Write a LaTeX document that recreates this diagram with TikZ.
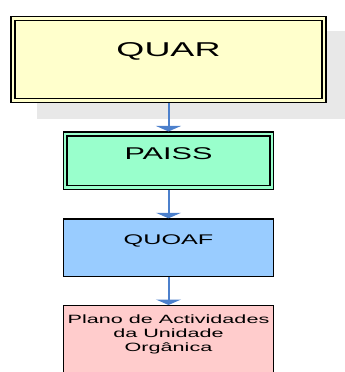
\documentclass[tikz,border=0pt]{standalone}
\usepackage{fontspec}
\setmainfont{Liberation Sans}
\newfontfamily\boxfont[FakeStretch=1.8]{Liberation Sans}
\usetikzlibrary{arrows.meta}

\definecolor{quaryellow}{RGB}{255,255,204}
\definecolor{paissgreen}{RGB}{153,255,204}
\definecolor{quoafblue}{RGB}{153,204,255}
\definecolor{planopink}{RGB}{255,204,204}
\definecolor{shadowgray}{RGB}{232,232,232}
\definecolor{arrowblue}{RGB}{76,128,204}

\begin{document}
\begin{tikzpicture}[x=1pt,y=-1pt]
\tikzstyle{dbox}=[rectangle,draw=black,line width=1.4pt,double distance=2.4pt,inner sep=0pt,outer sep=2.6pt]
\tikzstyle{sbox}=[rectangle,draw=black,line width=1.3pt,inner sep=0pt,outer sep=0.65pt]
\tikzstyle{flow}=[draw=arrowblue,line width=2pt,-{Triangle[width=25pt,length=5.5pt]}]

\useasboundingbox (0,0) rectangle (345,372);

% shadow behind the top box
\fill[shadowgray] (37,31) rectangle (350,119);

\node[dbox,fill=quaryellow,double=quaryellow,minimum width=311pt,minimum height=82pt,
  text height=14.3pt,text depth=21.3pt] (quar) at (168.5,59.5)
  {\boxfont\fontsize{20}{24}\selectfont QUAR};

\node[dbox,fill=paissgreen,double=paissgreen,minimum width=206.5pt,minimum height=53.5pt,
  text height=12.2pt,text depth=14.2pt] (paiss) at (168.5,160.8)
  {\boxfont\fontsize{17}{20}\selectfont PAISS};

\node[sbox,fill=quoafblue,minimum width=210pt,minimum height=57.7pt,
  text height=10pt,text depth=17pt] (quoaf) at (168.5,247.8)
  {\boxfont\fontsize{14}{17}\selectfont QUOAF};

\node[sbox,fill=planopink,minimum width=210pt,anchor=north,inner ysep=9.4pt] (plano) at (168.5,305)
  {\parbox[t][60pt][t]{205pt}{\centering\boxfont\fontsize{12}{13.7}\selectfont
   Plano de Actividades\\ da Unidade\\ Orgânica}};


\draw[flow] (quar.south) -- (paiss.north);
\draw[flow] (paiss.south) -- (quoaf.north);
\draw[flow] (quoaf.south) -- (plano.north);

\end{tikzpicture}
\end{document}
